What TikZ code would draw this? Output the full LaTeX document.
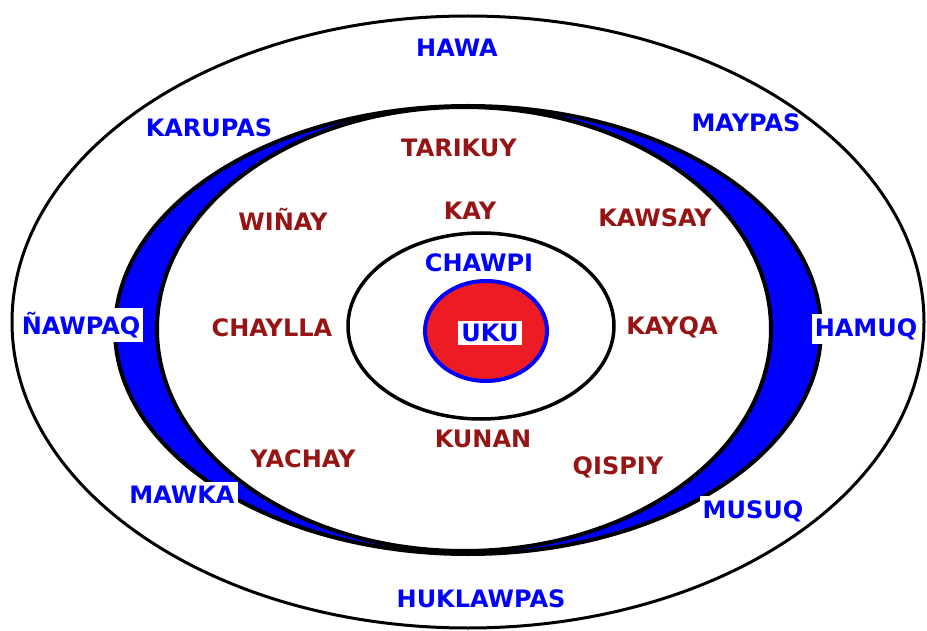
\documentclass[tikz,border=0pt]{standalone}
\usepackage{fontspec}
\setmainfont{DejaVu Sans}
\definecolor{labelblue}{RGB}{0,0,255}
\definecolor{labelred}{RGB}{150,20,20}
\definecolor{ukured}{RGB}{237,28,36}

\begin{document}
\begin{tikzpicture}[x=1pt,y=-1pt,
    bluelabel/.style={inner xsep=3pt,inner ysep=4pt,text=labelblue,font=\fontsize{24}{28}\selectfont\bfseries},
    boxlabel/.style={bluelabel,fill=white},
    redlabel/.style={inner sep=2pt,text=labelred,font=\fontsize{24}{28}\selectfont\bfseries}]
    \useasboundingbox (0,0) rectangle (927,631);

    % Draw outer ring
    \draw[line width=3pt] (468,322) ellipse [x radius=456, y radius=306];

    % Draw blue crescents
    \draw[line width=4pt, fill=labelblue] (468,330) ellipse [x radius=353, y radius=224];
    \draw[line width=4pt, fill=white] (464,329) ellipse [x radius=307, y radius=222];

    % Draw middle circle and centre
    \draw[line width=3.5pt] (481,326) ellipse [x radius=133, y radius=93];
    \draw[line width=4pt, color=labelblue, fill=ukured] (486,331) ellipse [x radius=61, y radius=50];

    % Outer labels
    \node[bluelabel] (hawa) at (457,48) {HAWA};
    \node[bluelabel] (karupas) at (209,128) {KARUPAS};
    \node[bluelabel] (maypas) at (746,123) {MAYPAS};
    \node[boxlabel] (nawpaq) at (81,325) {ÑAWPAQ};
    \node[boxlabel] (hamuq) at (866,329) {HAMUQ};
    \node[boxlabel] (mawka) at (182,495) {MAWKA};
    \node[boxlabel] (musuq) at (753,511) {MUSUQ};
    \node[bluelabel] (huklawpas) at (481,599) {HUKLAWPAS};

    % Inner labels
    \node[redlabel] (tarikuy) at (459,148) {TARIKUY};
    \node[redlabel] (winay) at (283,219) {WIÑAY};
    \node[redlabel] (kay) at (470,211) {KAY};
    \node[redlabel] (kawsay) at (655,218) {KAWSAY};
    \node[redlabel] (chaylla) at (272,328) {CHAYLLA};
    \node[redlabel] (kayqa) at (672,327) {KAYQA};
    \node[redlabel] (yachay) at (303,459) {YACHAY};
    \node[redlabel] (kunan) at (483,439) {KUNAN};
    \node[redlabel] (qispiy) at (618,467) {QISPIY};

    % Centre labels
    \node[bluelabel] (chawpi) at (479,263) {CHAWPI};
    \node[boxlabel, inner ysep=3pt] (uku) at (490,333) {UKU};

\end{tikzpicture}
\end{document}
